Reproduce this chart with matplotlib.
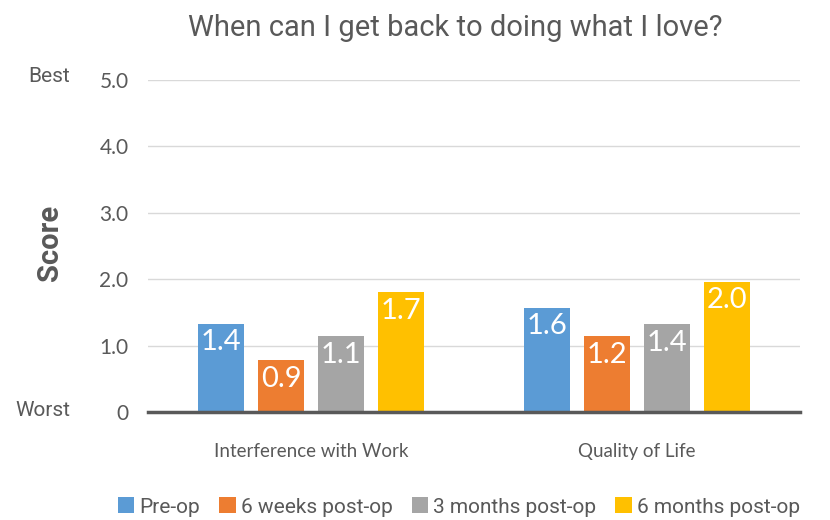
import matplotlib
matplotlib.use("Agg")
import matplotlib.pyplot as plt
import numpy as np
from matplotlib.patches import Patch

categories = ["Interference with Work", "Quality of Life"]
series = ["Pre-op", "6 weeks post-op", "3 months post-op", "6 months post-op"]
# bar heights as drawn
heights = {
    "Pre-op": [1.33, 1.57],
    "6 weeks post-op": [0.78, 1.14],
    "3 months post-op": [1.14, 1.32],
    "6 months post-op": [1.80, 1.96],
}
# printed labels
labels = {
    "Pre-op": ["1.4", "1.6"],
    "6 weeks post-op": ["0.9", "1.2"],
    "3 months post-op": ["1.1", "1.4"],
    "6 months post-op": ["1.7", "2.0"],
}
colors = ["#5B9BD5", "#ED7D31", "#A5A5A5", "#FFC000"]
yticks = [0, 1, 2, 3, 4, 5]
ytick_labels = ["0", "1.0", "2.0", "3.0", "4.0", "5.0"]

COND = ["Liberation Sans Narrow", "Roboto", "DejaVu Sans"]
HUM = ["Lato", "DejaVu Sans"]
TXT = "#595959"

fig = plt.figure(figsize=(8.3, 5.2), dpi=100)
ax = fig.add_axes([148/830, 1-412/520, 652/830, (412-80)/520])

x = np.arange(len(categories))
step = 0.184
width = 0.142
for i, s in enumerate(series):
    xs = x + (i - 1.5) * step
    bars = ax.bar(xs, heights[s], width=width, color=colors[i], zorder=3)
    for xi, h, lab in zip(xs, heights[s], labels[s]):
        ax.annotate(lab, (xi, h), xytext=(0, -4), textcoords="offset points",
                    ha="center", va="top", color="white", fontsize=21,
                    family=HUM, zorder=4)

ax.set_xlim(-0.5, 1.5)
ax.set_ylim(0, 5.0)
ax.set_yticks(yticks)
ax.set_yticklabels(ytick_labels, family=HUM, fontsize=15, color=TXT)
ax.set_xticks(x)
ax.set_xticklabels(categories, family=HUM, fontsize=13.5, color=TXT)
ax.tick_params(axis="both", length=0)
ax.tick_params(axis="y", pad=14)
ax.tick_params(axis="x", pad=22)
ax.grid(axis="y", color="#D9D9D9", linewidth=1, zorder=0)
for sp in ["top", "right", "left"]:
    ax.spines[sp].set_visible(False)
ax.spines["bottom"].set_color("#595959")
ax.spines["bottom"].set_linewidth(2.5)
ax.spines["bottom"].set_zorder(5)

fig.text(70/830, 1-77/520, "Best", ha="right", va="center", fontsize=15, color=TXT, family=COND)
fig.text(70/830, 1-411/520, "Worst", ha="right", va="center", fontsize=15, color=TXT, family=COND)
fig.text(50/830, 1-243/520, "Score", ha="center", va="center", rotation=90,
         fontsize=21, fontweight="bold", color=TXT, family=COND)
fig.text(455/830, 1-28/520, "When can I get back to doing what I love?", ha="center",
         va="center", fontsize=21, color=TXT, family=COND)

handles = [Patch(facecolor=c) for c in colors]
fig.legend(handles, series, loc="center", bbox_to_anchor=(459/830, 1-507/520), ncol=4,
           frameon=False, handlelength=0.8, handleheight=0.8, handletextpad=0.25,
           columnspacing=0.9, prop={"family": COND, "size": 15}, labelcolor=TXT)

fig.savefig("out.png", dpi=100)
